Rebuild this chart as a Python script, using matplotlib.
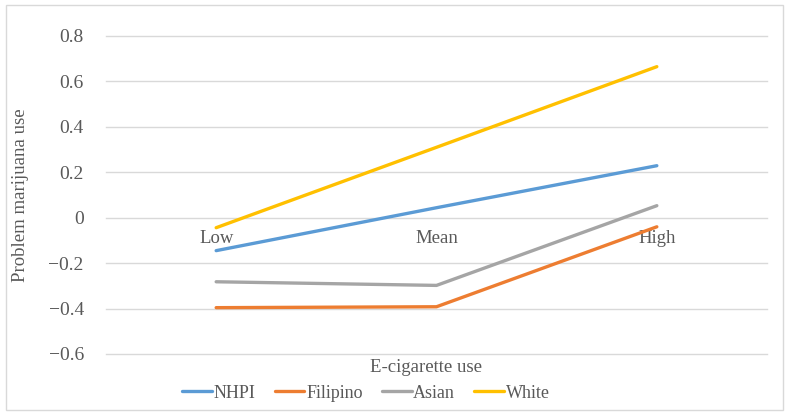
import matplotlib
matplotlib.use("Agg")
import matplotlib.pyplot as plt
from matplotlib.patches import Rectangle

categories = ["Low", "Mean", "High"]
series_names = ["NHPI", "Filipino", "Asian", "White"]
nhpi = [-0.145, 0.044, 0.229]
filipino = [-0.396, -0.392, -0.04]
asian = [-0.282, -0.298, 0.053]
white = [-0.044, 0.31, 0.665]
yticks = [-0.6, -0.4, -0.2, 0, 0.2, 0.4, 0.6, 0.8]
ytick_labels = ["\u22120.6", "\u22120.4", "\u22120.2", "0", "0.2", "0.4", "0.6", "0.8"]
colors = ["#5B9BD5", "#ED7D31", "#A5A5A5", "#FFC000"]

plt.rcParams['font.family'] = ['Liberation Serif', 'DejaVu Serif']
txt = "#595959"

fig = plt.figure(figsize=(7.9, 4.17), dpi=100)
fig.patches.append(Rectangle((6/790, 1-410/417), 777/790, 405/417, transform=fig.transFigure,
                             fill=False, edgecolor="#D9D9D9", linewidth=1))
ax = fig.add_axes([106/790, 1-354/417, 661/790, 318/417])

x = list(range(len(categories)))
for vals, name, c in zip([nhpi, filipino, asian, white], series_names, colors):
    ax.plot(x, vals, color=c, linewidth=2.4, label=name, solid_capstyle='round', zorder=3)

ax.set_xlim(-0.5, len(categories) - 0.5)
ax.set_ylim(-0.6, 0.8)
ax.set_yticks(yticks)
ax.set_yticklabels(ytick_labels)
ax.grid(axis='y', color="#D9D9D9", linewidth=1)
for gl in ax.get_ygridlines():
    gl.set_clip_on(False)
ax.set_axisbelow(True)
for s in ['left', 'right', 'top']:
    ax.spines[s].set_visible(False)
ax.spines['bottom'].set_position(('data', 0))
ax.spines['bottom'].set_visible(False)
ax.set_xticks(x)
ax.set_xticklabels(categories)
ax.tick_params(axis='x', length=0, pad=9, labelsize=13.5, labelcolor=txt)
ax.tick_params(axis='y', length=0, pad=16, labelsize=14, labelcolor=txt)
for lab in ax.get_yticklabels():
    lab.set_horizontalalignment('right')

ax.set_ylabel("Problem marijuana use", fontsize=13.5, color=txt, labelpad=14)
fig.text(426/790, 1-368/417, "E-cigarette use", ha='center', va='center', fontsize=13.5, color=txt)

leg = fig.legend(loc='center', bbox_to_anchor=(366/790, 1-393/417), ncol=4, frameon=False,
                 fontsize=13, handlelength=1.65, handletextpad=0.1, columnspacing=1.05)
for t in leg.get_texts():
    t.set_color(txt)

fig.savefig("out.png", dpi=100)
